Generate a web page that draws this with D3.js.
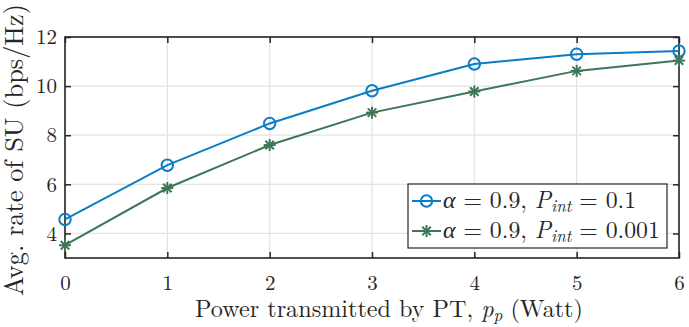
<!DOCTYPE html>
<html><head><meta charset="utf-8">
<script src="https://cdn.jsdelivr.net/npm/d3@7"></script>
<style>body{margin:0;background:#fff}svg{display:block}</style>
</head><body><svg id="c" width="689" height="327"></svg>
<script>
const xValues = [0, 1, 2, 3, 4, 5, 6];
const seriesHigh = [4.57, 6.78, 8.48, 9.81, 10.90, 11.30, 11.43];
const seriesLow  = [3.52, 5.85, 7.60, 8.92, 9.78, 10.62, 11.04];
const xTicks = [0, 1, 2, 3, 4, 5, 6];
const yTicks = [4, 6, 8, 10, 12];

const FONT = '"Latin Modern Roman", "Liberation Serif", serif';
const svg = d3.select("#c");
const L = 65, R = 679, T = 37, B = 258;
const x = d3.scaleLinear().domain([0, 6]).range([L, R]);
const y = d3.scaleLinear().domain([3, 12]).range([B, T]);
const axisCol = "#262626", gridCol = "#e3e3e3";
const blue = "#0b7cc6", green = "#3d7757";

function fit(sel, target) {
  const w = sel.node().getComputedTextLength();
  const k = target / w;
  sel.attr("font-size", parseFloat(sel.attr("font-size")) * k);
  sel.selectAll("tspan").each(function() {
    const s = d3.select(this);
    if (s.attr("font-size")) s.attr("font-size", parseFloat(s.attr("font-size")) * k);
  });
  return k;
}

// grid
svg.append("g").selectAll("line").data(xTicks).join("line")
  .attr("x1", d => x(d)).attr("x2", d => x(d)).attr("y1", T).attr("y2", B)
  .attr("stroke", gridCol).attr("stroke-width", 1.3);
svg.append("g").selectAll("line").data(yTicks).join("line")
  .attr("x1", L).attr("x2", R).attr("y1", d => y(d)).attr("y2", d => y(d))
  .attr("stroke", gridCol).attr("stroke-width", 1.3);

// axes with inward ticks
const tk = 6;
const gx = svg.append("g").attr("transform", `translate(0,${B})`)
  .call(d3.axisBottom(x).tickValues(xTicks).tickSize(-tk).tickPadding(17).tickFormat(d3.format("d")));
const gxt = svg.append("g").attr("transform", `translate(0,${T})`)
  .call(d3.axisTop(x).tickValues(xTicks).tickSize(-tk).tickFormat(""));
const gy = svg.append("g").attr("transform", `translate(${L},0)`)
  .call(d3.axisLeft(y).tickValues(yTicks).tickSize(-tk).tickPadding(8));
const gyr = svg.append("g").attr("transform", `translate(${R},0)`)
  .call(d3.axisRight(y).tickValues(yTicks).tickSize(-tk).tickFormat(""));
[gx, gxt, gy, gyr].forEach(g => {
  g.attr("font-family", null).attr("font-size", null);
  g.select(".domain").remove();
  g.selectAll(".tick line").attr("stroke", axisCol).attr("stroke-width", 1.5);
  g.selectAll("text").attr("font-size", 20).attr("fill", axisCol).style("font-family", FONT);
});
const t12 = gy.selectAll("text").filter(d => d === 12).node();
const tickFs = 20 * 21 / t12.getComputedTextLength();
gx.selectAll("text").attr("font-size", tickFs);
gy.selectAll("text").attr("font-size", tickFs);

svg.append("rect").attr("x", L).attr("y", T).attr("width", R - L).attr("height", B - T)
  .attr("fill", "none").attr("stroke", axisCol).attr("stroke-width", 1.6);

// series
const line = d3.line().x((d, i) => x(xValues[i])).y(d => y(d));
function asterisk(g, cx, cy, r, col) {
  [0, 45, 90, 135].forEach(a => {
    const rad = a * Math.PI / 180;
    g.append("line").attr("x1", cx - r * Math.cos(rad)).attr("y1", cy - r * Math.sin(rad))
      .attr("x2", cx + r * Math.cos(rad)).attr("y2", cy + r * Math.sin(rad))
      .attr("stroke", col).attr("stroke-width", 2);
  });
}
svg.append("path").datum(seriesHigh).attr("d", line).attr("fill", "none").attr("stroke", blue).attr("stroke-width", 2);
svg.append("path").datum(seriesLow).attr("d", line).attr("fill", "none").attr("stroke", green).attr("stroke-width", 2);
svg.append("g").selectAll("circle").data(seriesHigh).join("circle")
  .attr("cx", (d, i) => x(xValues[i])).attr("cy", d => y(d)).attr("r", 5.7)
  .attr("fill", "none").attr("stroke", blue).attr("stroke-width", 2);
const ga = svg.append("g");
seriesLow.forEach((d, i) => asterisk(ga, x(xValues[i]), y(d), 6, green));

// legend
const lg = svg.append("g");
lg.append("rect").attr("x", 408).attr("y", 184).attr("width", 259).attr("height", 64)
  .attr("fill", "#fff").attr("stroke", axisCol).attr("stroke-width", 1.2);
const rows = [
  {col: blue, val: "0.1", marker: "o", yy: 201},
  {col: green, val: "0.001", marker: "*", yy: 231}
];
let legK = null;
[rows[1], rows[0]].forEach(r => {
  lg.append("line").attr("x1", 412).attr("x2", 441).attr("y1", r.yy).attr("y2", r.yy)
    .attr("stroke", r.col).attr("stroke-width", 2);
  if (r.marker === "o") lg.append("circle").attr("cx", 426.5).attr("cy", r.yy).attr("r", 5.7)
    .attr("fill", "none").attr("stroke", r.col).attr("stroke-width", 2);
  else asterisk(lg, 426.5, r.yy, 6, r.col);
  const t = lg.append("text").attr("x", 443).attr("y", r.yy + 6.5).attr("font-size", 19)
    .style("font-family", FONT).attr("fill", axisCol);
  t.append("tspan").attr("font-style", "italic").text("α");
  t.append("tspan").text(" = 0.9, ");
  t.append("tspan").attr("font-style", "italic").text("P");
  t.append("tspan").attr("font-style", "italic").attr("font-size", 13.5).attr("dy", 4).text("int");
  t.append("tspan").attr("dy", -4).text(" = " + r.val);
  if (legK === null) legK = fit(t, 217);
  else { t.attr("font-size", 19 * legK); t.select("tspan:nth-child(4)").attr("font-size", 13.5 * legK); }
});

// axis labels
const xl = svg.append("text").attr("x", 389).attr("y", 317).attr("text-anchor", "middle")
  .attr("font-size", 21).style("font-family", FONT).attr("fill", axisCol);
xl.append("tspan").text("Power transmitted by PT, ");
xl.append("tspan").attr("font-style", "italic").text("p");
xl.append("tspan").attr("font-style", "italic").attr("font-size", 15).attr("dy", 4).text("p");
xl.append("tspan").attr("dy", -4).text(" (Watt)");
fit(xl, 388);
const yl = svg.append("text").attr("transform", "translate(23,150) rotate(-90)").attr("text-anchor", "middle")
  .attr("font-size", 21).style("font-family", FONT).attr("fill", axisCol).text("Avg. rate of SU (bps/Hz)");
fit(yl, 292);
</script></body></html>
